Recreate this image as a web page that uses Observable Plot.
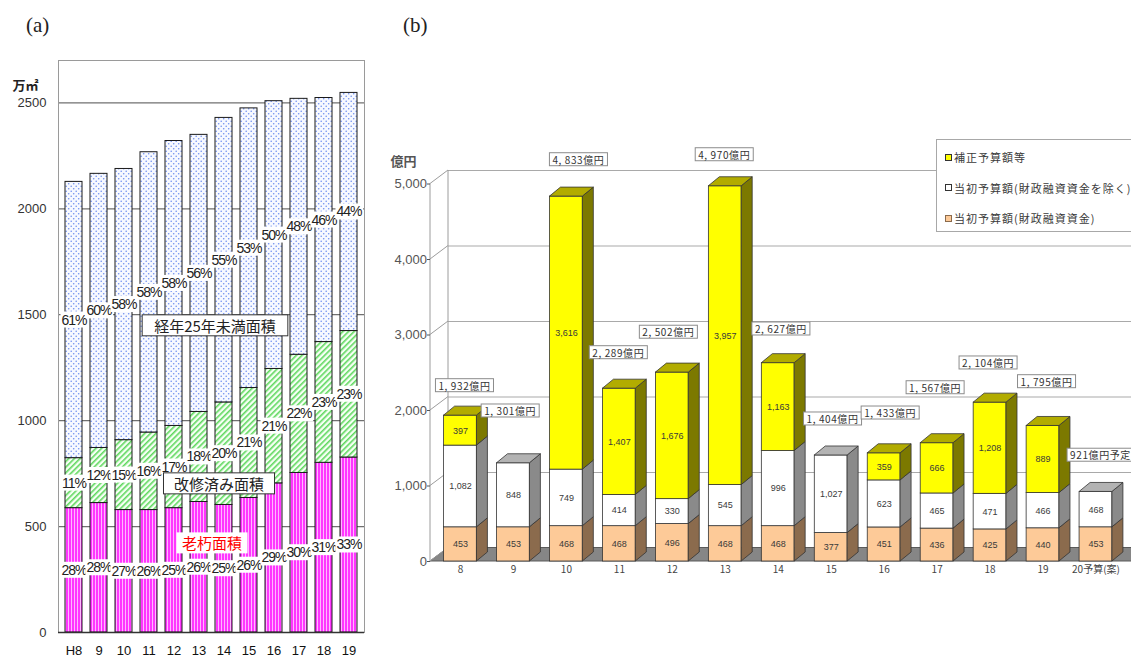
<!DOCTYPE html>
<html lang="ja">
<head>
<meta charset="utf-8">
<title>施設面積と予算額の推移</title>
<script src="https://cdn.jsdelivr.net/npm/d3@7"></script>
<script src="https://cdn.jsdelivr.net/npm/@observablehq/plot@0.6"></script>
<style>
  html, body { margin: 0; padding: 0; background: #fff; }
  #page { position: relative; width: 1131px; height: 657px; overflow: hidden;
          font-family: "Liberation Sans", "Noto Sans CJK JP", sans-serif; }
  .tag { position: absolute; top: 13px; font-family: "Liberation Serif", "DejaVu Serif", serif;
         font-size: 21px; color: #222; }
  #chartA { position: absolute; left: 0; top: 0; }
  #chartB { position: absolute; left: 380px; top: 0; }
  #legendB { position: absolute; left: 936px; top: 139px; width: 220px; height: 91px;
             border: 1px solid #a8a8a8; background: #fff; font-size: 11px; letter-spacing: 1px;
             color: #3a3a3a; font-family: "Noto Sans CJK JP", sans-serif; }
  .lg-row { position: absolute; left: 8px; height: 14px; display: flex; align-items: center; white-space: nowrap; }
  .lg-swatch { width: 5px; height: 5px; border: 1px solid #333; margin-right: 2px; flex: none; }
</style>
</head>
<body>
<div id="page">
  <div class="tag" style="left:26px">(a)</div>
  <div class="tag" style="left:403px">(b)</div>
  <div id="chartA"></div>
  <div id="chartB"></div>
  <div id="legendB"></div>
</div>
<script>
// ---- (a) 面積の内訳（万㎡） ----
const yearsA = ["H8", "9", "10", "11", "12", "13", "14", "15", "16", "17", "18", "19"];
const agedArea = [587, 611, 578, 578, 587, 616, 602, 635, 704, 753, 801, 826];          // 老朽面積
const renovatedArea = [236, 260, 330, 366, 388, 425, 484, 519, 540, 558, 570, 597];     // 改修済み面積
const youngArea = [1304, 1294, 1280, 1323, 1345, 1308, 1343, 1320, 1264, 1208, 1152, 1124]; // 経年25年未満面積
const agedShare = [28, 28, 27, 26, 25, 26, 25, 26, 29, 30, 31, 33];
const renovatedShare = [11, 12, 15, 16, 17, 18, 20, 21, 21, 22, 23, 23];
const youngShare = [61, 60, 58, 58, 58, 56, 55, 53, 50, 48, 46, 44];
const ticksA = [0, 500, 1000, 1500, 2000, 2500];

// ---- (b) 予算額（億円） ----
const yearsB = ["8", "9", "10", "11", "12", "13", "14", "15", "16", "17", "18", "19", "20予算(案)"];
const loanBudget = [453, 453, 468, 468, 496, 468, 468, 377, 451, 436, 425, 440, 453];      // 当初予算額(財政融資資金)
const initialBudget = [1082, 848, 749, 414, 330, 545, 996, 1027, 623, 465, 471, 466, 468]; // 当初予算額(財政融資資金を除く)
const supplementaryBudget = [397, 0, 3616, 1407, 1676, 3957, 1163, 0, 359, 666, 1208, 889, 0]; // 補正予算額等
const ticksB = [0, 1000, 2000, 3000, 4000, 5000];

// placement of the total callouts: [shift in bar units, height in 億円]
const calloutPlacement = [[0.075, 2318], [-0.062, 1983], [0.227, 5311], [-0.02, 2755], [-0.075, 3026],
  [-0.02, 5377], [0.05, 3069], [0.025, 1877], [0.113, 1956], [-0.038, 2291], [-0.038, 2619],
  [0.066, 2371], [0.085, 1397]];

const SANS = '"Liberation Sans", "Noto Sans CJK JP", sans-serif';
const CJK = '"Noto Sans CJK JP", sans-serif';

// draws a white (optionally outlined) box behind every text of a tagged text mark
function boxLabels(svg, tag, {padX = 2, padY = 0, fill = "#fff", stroke = "none", spacing = null} = {}) {
  svg.querySelectorAll(`g[aria-description="${tag}"]`).forEach(g => {
    if (spacing != null) g.style.letterSpacing = spacing + "px";
    g.querySelectorAll("text").forEach(t => {
      const b = t.getBBox();
      const r = document.createElementNS("http://www.w3.org/2000/svg", "rect");
      r.setAttribute("x", b.x - padX);
      r.setAttribute("y", b.y - padY);
      r.setAttribute("width", b.width + 2 * padX);
      r.setAttribute("height", b.height + 2 * padY);
      r.setAttribute("fill", fill);
      r.setAttribute("stroke", stroke);
      r.setAttribute("stroke-width", 1);
      const tr = t.getAttribute("transform");
      if (tr) r.setAttribute("transform", tr);
      t.parentNode.insertBefore(r, t);
    });
  });
}

// ================= (a) =================
const seriesA = [
  {values: agedArea, shares: agedShare, fill: "url(#fill-aged)"},
  {values: renovatedArea, shares: renovatedShare, fill: "url(#fill-renovated)"},
  {values: youngArea, shares: youngShare, fill: "url(#fill-young)"}
];
const stackA = yearsA.flatMap((year, i) => {
  let base = 0;
  return seriesA.map(s => {
    const v = s.values[i];
    const row = {year, y1: base, y2: base + v, mid: base + v / 2, share: s.shares[i], fill: s.fill};
    base += v;
    return row;
  });
});

function fillPatterns() {
  const defs = d3.create("svg:defs");
  const aged = defs.append("pattern").attr("id", "fill-aged")
    .attr("patternUnits", "userSpaceOnUse").attr("width", 3).attr("height", 8);
  aged.append("rect").attr("width", 3).attr("height", 8).attr("fill", "#ff36ff");
  aged.append("rect").attr("x", 2).attr("width", 1).attr("height", 8).attr("fill", "#ffb8ff");
  const ren = defs.append("pattern").attr("id", "fill-renovated")
    .attr("patternUnits", "userSpaceOnUse").attr("width", 4).attr("height", 4)
    .attr("patternTransform", "rotate(45)");
  ren.append("rect").attr("width", 4).attr("height", 4).attr("fill", "#f6fff4");
  ren.append("rect").attr("width", 1.6).attr("height", 4).attr("fill", "#5fd85f");
  const young = defs.append("pattern").attr("id", "fill-young")
    .attr("patternUnits", "userSpaceOnUse").attr("width", 5).attr("height", 5);
  young.append("rect").attr("width", 5).attr("height", 5).attr("fill", "#f7f9ff");
  young.append("circle").attr("cx", 1.2).attr("cy", 1.2).attr("r", 0.8).attr("fill", "#6f8ff0");
  young.append("circle").attr("cx", 3.7).attr("cy", 3.7).attr("r", 0.8).attr("fill", "#6f8ff0");
  return defs.node();
}

const areaNotes = [
  {label: "経年25年未満面積", year: "13", at: 1442, shift: 16, pad: 12, color: "#222", border: "#333"},
  {label: "改修済み面積", year: "13", at: 696, shift: 20, pad: 10.5, color: "#222", border: "#333"},
  {label: "老朽面積", year: "13", at: 415, shift: 13, pad: 5.5, color: "#ff0000", border: "none"}
];

const chartA = Plot.plot({
  width: 380, height: 657,
  marginLeft: 58, marginRight: 16, marginTop: 60, marginBottom: 25,
  style: {fontFamily: SANS, background: "transparent", color: "#222"},
  x: {domain: yearsA, paddingInner: 0.335, paddingOuter: 0.16},
  y: {domain: [0, 2700]},
  color: {type: "identity"},
  marks: [
    fillPatterns,
    Plot.ruleY(ticksA.slice(1), {stroke: "#707070", strokeWidth: 1.3}),
    Plot.frame({stroke: "#9a9a9a"}),
    Plot.barY(stackA, {x: "year", y1: "y1", y2: "y2", fill: "fill", stroke: "#1a1a1a", strokeWidth: 1}),
    Plot.ruleY([0], {stroke: "#333", strokeWidth: 1.3}),
    Plot.axisY({ticks: ticksA, tickFormat: d => String(d), tickSize: 0, tickPadding: 12, fontSize: 13,
      label: null, color: "#333"}),
    Plot.axisX({tickSize: 0, tickPadding: 13, fontSize: 13, label: null, color: "#111"}),
    Plot.text(["万㎡"], {frameAnchor: "top-left", textAnchor: "start", lineAnchor: "middle",
      dx: -46, dy: 25, fontSize: 13, fontWeight: "bold", fontFamily: CJK, fill: "#222"}),
    Plot.text(stackA, {x: "year", y: "mid", text: d => d.share + "%", fontSize: 14,
      fill: "#222", ariaDescription: "share"}),
    ...areaNotes.map((n, k) => Plot.text([n], {x: "year", y: "at", text: "label", dx: n.shift,
      fontSize: 15, fontFamily: CJK, fill: n.color, ariaDescription: "note" + k}))
  ]
});
document.getElementById("chartA").append(chartA);
boxLabels(chartA, "share", {padX: 1, padY: 0, spacing: -1});
areaNotes.forEach((n, k) => boxLabels(chartA, "note" + k, {padX: n.pad, padY: 0, stroke: n.border}));

// ================= (b) =================
const BAR_HALF = 0.31;          // half bar width, in bar units
const BAR_DEPTH = [11, -9];     // receding offset of the bar prisms (px)
const WALL_DEPTH = [18, -13.5]; // receding offset of the walls and floor (px)

const seriesB = [
  {name: "当初予算額(財政融資資金)", values: loanBudget, front: "#fdca98", top: "#c99c70", side: "#8b6b4d"},
  {name: "当初予算額(財政融資資金を除く)", values: initialBudget, front: "#ffffff", top: "#b3b3b3", side: "#8a8a8a"},
  {name: "補正予算額等", values: supplementaryBudget, front: "#ffff00", top: "#b2ac00", side: "#7c7900"}
];
const segmentsB = [];
const totalsB = [];
yearsB.forEach((label, i) => {
  let base = 0;
  const segs = [];
  for (const s of seriesB) {
    const v = s.values[i];
    if (!v) continue;
    segs.push({i, y1: base, y2: base + v, mid: base + v / 2, value: v,
      front: s.front, top: s.top, side: s.side, isTop: false});
    base += v;
  }
  segs[segs.length - 1].isTop = true;
  segmentsB.push(...segs);
  totalsB.push({i, total: base, planned: label.includes("予算")});
});

const fmt = d3.format(",");
const calloutText = d => d.planned ? `${fmt(d.total)}億円予定` : `${fmt(d.total).replace(",", ", ")}億円`;

// left wall, its tick diagonals, and the floor slab
function wallAndFloor(index, scales, values, dims) {
  const [wx, wy] = WALL_DEPTH;
  const g = d3.create("svg:g");
  const xL = dims.marginLeft, xR = dims.width;
  const y0 = scales.y(0), yT = scales.y(ticksB[ticksB.length - 1]);
  g.append("path")
    .attr("d", `M${xL},${y0}L${xR},${y0}L${xR + wx},${y0 + wy}L${xL + wx},${y0 + wy}Z`)
    .attr("fill", "#868686").attr("stroke", "#5a5a5a");
  const lines = g.append("g").attr("stroke", "#9c9c9c").attr("fill", "none");
  lines.append("line").attr("x1", xL).attr("y1", y0).attr("x2", xL).attr("y2", yT);
  lines.append("line").attr("x1", xL + wx).attr("y1", y0 + wy).attr("x2", xL + wx).attr("y2", yT + wy);
  for (const v of ticksB) {
    const y = scales.y(v);
    lines.append("line").attr("x1", xL).attr("y1", y).attr("x2", xL + wx).attr("y2", y + wy);
  }
  return g.node();
}

// side and top faces of each stacked prism
function barFaces(index, scales) {
  const [bx, by] = BAR_DEPTH;
  const g = d3.create("svg:g").attr("stroke", "#333").attr("stroke-width", 0.8).attr("stroke-linejoin", "round");
  for (const s of segmentsB) {
    const xl = scales.x(s.i - BAR_HALF), xr = scales.x(s.i + BAR_HALF);
    const yb = scales.y(s.y1), yt = scales.y(s.y2);
    g.append("path").attr("fill", s.side)
      .attr("d", `M${xr},${yb}L${xr + bx},${yb + by}L${xr + bx},${yt + by}L${xr},${yt}Z`);
    if (s.isTop) g.append("path").attr("fill", s.top)
      .attr("d", `M${xl},${yt}L${xr},${yt}L${xr + bx},${yt + by}L${xl + bx},${yt + by}Z`);
  }
  return g.node();
}

const chartB = Plot.plot({
  width: 751, height: 657,
  marginLeft: 50, marginRight: 0, marginTop: 183, marginBottom: 96,
  style: {fontFamily: SANS, background: "transparent", color: "#333"},
  x: {type: "linear", domain: [0, yearsB.length - 1], range: [80, 715.5]},
  y: {domain: [0, 5000], range: [561, 183.5]},
  color: {type: "identity"},
  marks: [
    Plot.ruleY(ticksB.slice(1), {dx: WALL_DEPTH[0], dy: WALL_DEPTH[1], stroke: "#a9a9a9"}),
    wallAndFloor,
    Plot.rect(segmentsB, {x1: d => d.i - BAR_HALF, x2: d => d.i + BAR_HALF, y1: "y1", y2: "y2",
      fill: "front", stroke: "#333", strokeWidth: 0.8}),
    barFaces,
    Plot.text(segmentsB, {x: "i", y: "mid", text: d => fmt(d.value), fontSize: 9, fill: "#3a3a3a"}),
    Plot.axisY({ticks: ticksB, tickFormat: fmt, tickSize: 3, tickPadding: 0.5, fontSize: 13,
      label: null, color: "#555"}),
    Plot.axisX({ticks: d3.range(yearsB.length), tickFormat: i => yearsB[i], tickSize: 0,
      tickPadding: 4, fontSize: 10, label: null, color: "#444", fontFamily: CJK}),
    Plot.text(["億円"], {frameAnchor: "top-left", textAnchor: "start", lineAnchor: "middle",
      dx: -40, dy: -22, fontSize: 13, fontWeight: "bold", fontFamily: CJK, fill: "#555"}),
    Plot.text(totalsB, {x: d => d.i + calloutPlacement[d.i][0], y: d => calloutPlacement[d.i][1],
      text: calloutText, fontSize: 10, fontFamily: CJK, fill: "#333", ariaDescription: "callout"})
  ]
});
document.getElementById("chartB").append(chartB);
boxLabels(chartB, "callout", {padX: 3, padY: -1, stroke: "#8c8c8c", spacing: 0.6});

// legend (top entry first)
const legend = d3.select("#legendB");
[...seriesB].reverse().forEach((s, k) => {
  const row = legend.append("div").attr("class", "lg-row").style("top", (10 + k * 30.5) + "px");
  row.append("div").attr("class", "lg-swatch").style("background", s.front)
    .style("border-color", s.front === "#fdca98" ? "#8b6b4d" : "#333");
  row.append("span").text(s.name);
});
</script>
</body>
</html>
